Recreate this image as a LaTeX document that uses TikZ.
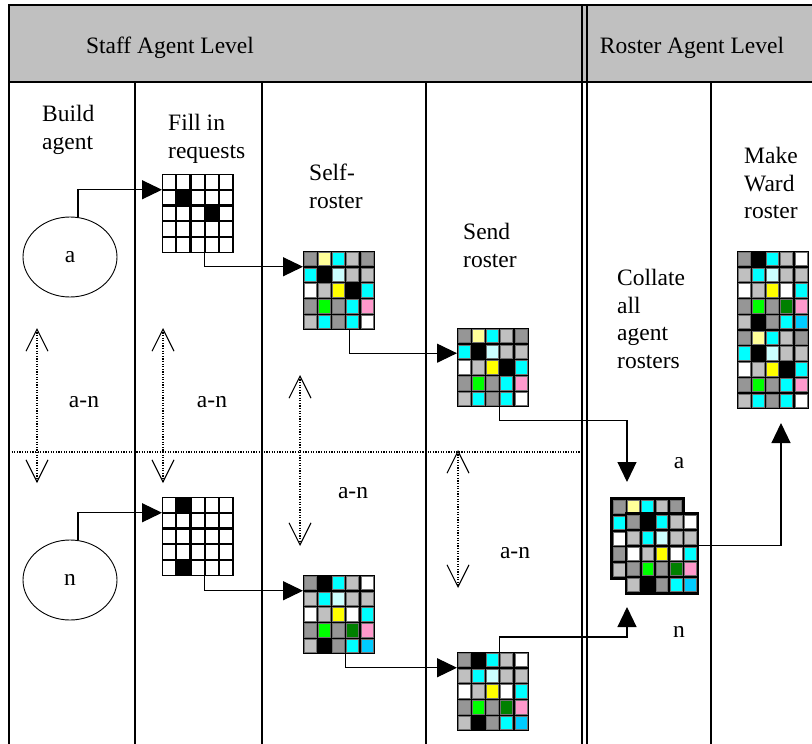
\documentclass[tikz,border=0pt]{standalone}
\usepackage{fontspec}
\setmainfont{Liberation Serif}
\usetikzlibrary{arrows.meta,calc,shapes.geometric}

% roster cell colours
\definecolor{cgray}{HTML}{969696}
\definecolor{csilver}{HTML}{C0C0C0}
\definecolor{clyellow}{HTML}{FFFF99}
\definecolor{cyellow}{HTML}{FFFF00}
\definecolor{ccyan}{HTML}{00FFFF}
\definecolor{clcyan}{HTML}{CCFFFF}
\definecolor{cgreen}{HTML}{00FF00}
\definecolor{cdgreen}{HTML}{008000}
\definecolor{cpink}{HTML}{FF99CC}
\definecolor{csky}{HTML}{00CCFF}
\definecolor{rim}{HTML}{707070}
\definecolor{headfill}{HTML}{C0C0C0}

% cell pitch of a roster grid
\newcommand\cw{14.2}
\newcommand\ch{15.75}

\tikzset{
  rcellg/.style={fill=cgray,draw=rim},
  rcells/.style={fill=csilver,draw=rim},
  rcelly/.style={fill=clyellow,draw=rim},
  rcellY/.style={fill=cyellow,draw=rim},
  rcellc/.style={fill=ccyan,draw=rim},
  rcelll/.style={fill=clcyan,draw=rim},
  rcellG/.style={fill=cgreen,draw=rim},
  rcellD/.style={fill=cdgreen,draw=rim},
  rcellp/.style={fill=cpink,draw=rim},
  rcellb/.style={fill=csky,draw=rim},
  rcellw/.style={fill=white,draw=rim},
  rcellk/.style={fill=black,draw=black},
  rcello/.style={fill=white,draw=none},
  gridbox/.style={rectangle,inner sep=0pt,outer sep=0pt,fill=black,draw=black,anchor=north west},
  frameline/.style={line width=1.8pt},
  colline/.style={line width=1.5pt},
  conn/.style={line width=1.2pt,-{Triangle[length=20pt,width=19pt]}},
  span/.style={line width=1.1pt,dash pattern=on 1.2pt off 1.4pt,
    {Straight Barb[length=22pt,width=22pt,line width=1.1pt]}-{Straight Barb[length=22pt,width=22pt,line width=1.1pt]}},
  sepline/.style={line width=1.1pt,dash pattern=on 1.2pt off 1.4pt},
  lbl/.style={font=\fontsize{23.5}{27.5}\selectfont,inner sep=0pt},
  title/.style={lbl,align=left,anchor=north west},
  agent/.style={ellipse,draw,line width=0.9pt,minimum width=94pt,minimum height=80pt,inner sep=0pt,font=\fontsize{23.5}{27.5}\selectfont},
}

% #1 name, #2 top-left corner, #3 rows, #4 cell inset, #5 frame width, #6 cell codes
\newcommand\rostergrid[6]{%
  \node[gridbox,line width=#5,minimum width={5*\cw*1pt},minimum height={#3*\ch*1pt}] (#1) at #2 {};
  \edef\gridcells{#6}%
  \foreach \c [count=\k from 0] in \gridcells {%
    \pgfmathtruncatemacro\col{mod(\k,5)}%
    \pgfmathtruncatemacro\row{floor(\k/5)}%
    \path[rcell\c,line width=0.5pt] ($(#1.north west)+(\col*\cw+#4,\row*\ch+#4)$) rectangle ++(\cw-2*#4,\ch-2*#4);
  }%
}

\newcommand\rosterA{g,y,c,s,g,c,k,l,s,s,w,s,Y,k,c,g,G,g,c,p,s,c,g,c,w}
\newcommand\rosterN{g,k,c,s,w,s,c,l,s,s,w,s,Y,w,c,g,G,g,D,p,s,k,g,c,b}

\begin{document}
\begin{tikzpicture}[x=1pt,y=-1pt]
\useasboundingbox (0,0) rectangle (812,744);
\clip (0,0) rectangle (812,744);

% header band and table rules
\fill[headfill] (9,5) rectangle (830,82);
\draw[frameline] (9,5) -- (830,5);
\draw[frameline] (9,82) -- (830,82);
\draw[frameline] (9,4) -- (9,760);
\draw[colline] (135,82) -- (135,760);
\draw[colline] (262,82) -- (262,760);
\draw[colline] (426,82) -- (426,760);
\draw[colline] (582,4) -- (582,760);
\draw[colline] (587,4) -- (587,760);
\draw[colline] (711,82) -- (711,760);

% boundary between agent a and agent n
\draw[sepline] (9,452) -- (581,452);

% headings
\node[lbl,anchor=base] (hstaff) at (170,53) {Staff Agent Level};
\node[lbl,anchor=base] (hroster) at (692,53) {Roster Agent Level};

\node[title] (tbuild) at (42,105) {Build\\agent};
\node[title] (tfill) at (168,114) {Fill in\\requests};
\node[title] (tself) at (309,164) {Self-\\roster};
\node[title] (tsend) at (463,223) {Send\\roster};
\node[title] (tcoll) at (617,269) {Collate\\all\\agent\\rosters};
\node[title] (tward) at (744,147) {Make\\Ward\\roster};

% agents
\node[agent] (ellA) at (70,257) {a};
\node[agent] (ellN) at (70,580) {n};

% request grids
\rostergrid{fillA}{(162,174)}{5}{1.1}{1pt}{o,o,o,o,o,o,k,o,o,o,o,o,o,k,o,o,o,o,o,o,o,o,o,o,o}
\rostergrid{fillN}{(162,497)}{5}{1.1}{1pt}{o,k,o,o,o,o,o,o,o,o,o,o,o,o,o,o,o,o,o,o,o,k,o,o,o}

% self rosters and sent rosters
\rostergrid{selfA}{(303,251)}{5}{1.1}{1pt}{\rosterA}
\rostergrid{selfN}{(303,575)}{5}{1.1}{1pt}{\rosterN}
\rostergrid{sendA}{(457,328)}{5}{1.1}{1pt}{\rosterA}
\rostergrid{sendN}{(457,652)}{5}{1.1}{1pt}{\rosterN}

% collated rosters, stacked
\rostergrid{collA}{(612,499)}{5}{1.3}{3.5pt}{\rosterA}
\rostergrid{collN}{(626.3,514)}{5}{1.3}{3.5pt}{\rosterN}

% ward roster
\rostergrid{ward}{(737,251)}{10}{1.1}{1pt}{\rosterN,\rosterA}

% free arrow ends
\coordinate (tipA) at (627,482);
\coordinate (tipN) at (627,607);
\coordinate (tipW) at (781,423);

\node[lbl] (la) at (679,463) {a};
\node[lbl] (ln) at (679,632) {n};

% flow of agent a
\draw[conn] ([xshift=8pt]ellA.north) |- ($(fillA.north west)!0.2!(fillA.south west)$);
\draw[conn] ($(fillA.south west)!0.6!(fillA.south east)$) |- ($(selfA.north west)!0.2!(selfA.south west)$);
\draw[conn] ($(selfA.south west)!0.65!(selfA.south east)$) |- ($(sendA.north west)!0.32!(sendA.south west)$);
\draw[conn] ($(sendA.south west)!0.6!(sendA.south east)$) -- ++(0,14) -| (tipA);

% flow of agent n
\draw[conn] ([xshift=8pt]ellN.north) |- ($(fillN.north west)!0.2!(fillN.south west)$);
\draw[conn] ($(fillN.south west)!0.6!(fillN.south east)$) |- ($(selfN.north west)!0.2!(selfN.south west)$);
\draw[conn] ($(selfN.south west)!0.6!(selfN.south east)$) |- ($(sendN.north west)!0.2!(sendN.south west)$);
\draw[conn] ($(sendN.north west)!0.6!(sendN.north east)$) -- ++(0,-15) -| (tipN);

% collated roster to ward roster
\draw[conn] ($(collN.north east)!0.4!(collN.south east)$) -| (tipW);

% agent ranges a-n
\coordinate (s1t) at (37,328);  \coordinate (s1b) at (37,483);
\coordinate (s2t) at (163,328); \coordinate (s2b) at (163,483);
\coordinate (s3t) at (300,375); \coordinate (s3b) at (300,546);
\coordinate (s4t) at (458,450); \coordinate (s4b) at (458,588);
\draw[span] (s1t) -- (s1b);
\draw[span] (s2t) -- (s2b);
\draw[span] (s3t) -- (s3b);
\draw[span] (s4t) -- (s4b);
\node[lbl] (r1) at (84,402) {a-n};
\node[lbl] (r2) at (212,402) {a-n};
\node[lbl] (r3) at (353,493) {a-n};
\node[lbl] (r4) at (515,553) {a-n};
\end{tikzpicture}
\end{document}
